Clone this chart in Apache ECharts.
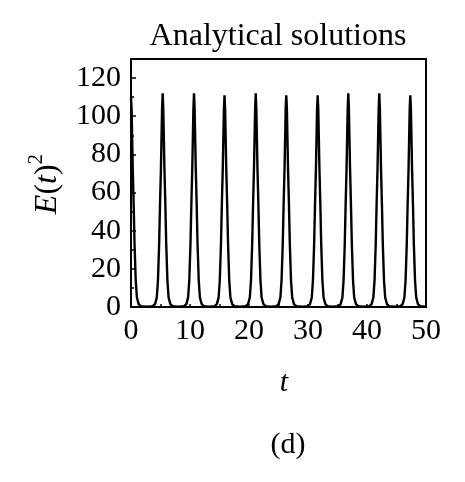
<!DOCTYPE html>
<html><head><meta charset="utf-8">
<script src="https://cdn.jsdelivr.net/npm/echarts@6/dist/echarts.min.js"></script>
<style>html,body{margin:0;padding:0;background:#fff}#c{width:465px;height:482px}</style>
</head><body><div id="c"></div>
<script>
// Data: [t, E(t)^2]
var peak0 = [[0,110],[0.1,104],[0.2,88],[0.3,72],[0.45,54],[0.6,33],[0.8,14],[1.0,5],[1.3,1.5],[1.7,0.4],[2.7,0.2]];
var peak1 = [[3.67,0.4],[4.07,1.5],[4.37,5],[4.57,14],[4.77,33],[4.92,54],[5.07,72],[5.17,88],[5.27,104],[5.37,112],[5.47,104],[5.57,88],[5.67,72],[5.82,54],[5.97,33],[6.17,14],[6.37,5],[6.67,1.5],[7.07,0.4],[8.0,0.2]];
var peak2 = [[8.98,0.4],[9.38,1.5],[9.68,5],[9.88,14],[10.08,33],[10.23,54],[10.38,72],[10.48,88],[10.58,104],[10.68,112],[10.78,104],[10.88,88],[10.98,72],[11.13,54],[11.28,33],[11.48,14],[11.68,5],[11.98,1.5],[12.38,0.4],[13.2,0.2]];
var peak3 = [[14.15,0.4],[14.55,1.5],[14.85,5],[15.05,14],[15.25,33],[15.4,54],[15.55,72],[15.65,88],[15.75,104],[15.85,111],[15.95,104],[16.05,88],[16.15,72],[16.3,54],[16.45,33],[16.65,14],[16.85,5],[17.15,1.5],[17.55,0.4],[18.5,0.2]];
var peak4 = [[19.44,0.4],[19.84,1.5],[20.14,5],[20.34,14],[20.54,33],[20.69,54],[20.84,72],[20.94,88],[21.04,104],[21.14,112],[21.24,104],[21.34,88],[21.44,72],[21.59,54],[21.74,33],[21.94,14],[22.14,5],[22.44,1.5],[22.84,0.4],[23.7,0.2]];
var peak5 = [[24.62,0.4],[25.02,1.5],[25.32,5],[25.52,14],[25.72,33],[25.87,54],[26.02,72],[26.12,88],[26.22,104],[26.32,111],[26.42,104],[26.52,88],[26.62,72],[26.77,54],[26.92,33],[27.12,14],[27.32,5],[27.62,1.5],[28.02,0.4],[29.0,0.2]];
var peak6 = [[29.94,0.4],[30.34,1.5],[30.64,5],[30.84,14],[31.04,33],[31.19,54],[31.34,72],[31.44,88],[31.54,104],[31.64,111],[31.74,104],[31.84,88],[31.94,72],[32.09,54],[32.24,33],[32.44,14],[32.64,5],[32.94,1.5],[33.34,0.4],[34.2,0.2]];
var peak7 = [[35.13,0.4],[35.53,1.5],[35.83,5],[36.03,14],[36.23,33],[36.38,54],[36.53,72],[36.63,88],[36.73,104],[36.83,112],[36.93,104],[37.03,88],[37.13,72],[37.28,54],[37.43,33],[37.63,14],[37.83,5],[38.13,1.5],[38.53,0.4],[39.4,0.2]];
var peak8 = [[40.38,0.4],[40.78,1.5],[41.08,5],[41.28,14],[41.48,33],[41.63,54],[41.78,72],[41.88,88],[41.98,104],[42.08,112],[42.18,104],[42.28,88],[42.38,72],[42.53,54],[42.68,33],[42.88,14],[43.08,5],[43.38,1.5],[43.78,0.4],[44.7,0.2]];
var peak9 = [[45.64,0.4],[46.04,1.5],[46.34,5],[46.54,14],[46.74,33],[46.89,54],[47.04,72],[47.14,88],[47.24,104],[47.34,111],[47.44,104],[47.54,88],[47.64,72],[47.79,54],[47.94,33],[48.14,14],[48.34,5],[48.64,1.5],[49.04,0.4],[50,0.2]];

var xTicks = [0, 10, 20, 30, 40, 50];
var yTicks = [0, 20, 40, 60, 80, 100, 120];
var titleText = 'Analytical solutions';
var xName = 't';
var panelLabel = '(d)';

var series = [].concat(peak0, peak1, peak2, peak3, peak4, peak5, peak6, peak7, peak8, peak9);

var FONT = 'Liberation Serif';
var chart = echarts.init(document.getElementById('c'), null, {renderer: 'canvas'});
chart.setOption({
  animation: false,
  backgroundColor: '#fff',
  grid: {left: 131, right: 39, top: 59, bottom: 175, show: true, borderColor: '#000', borderWidth: 2, backgroundColor: 'transparent'},
  xAxis: {
    type: 'value', min: xTicks[0], max: xTicks[xTicks.length - 1], interval: 10,
    axisLine: {show: true, lineStyle: {color: '#000', width: 2}},
    axisTick: {show: true, inside: true, length: 3, lineStyle: {color: '#000', width: 1.5}},
    minorTick: {show: true, splitNumber: 2, length: 3, lineStyle: {color: '#000', width: 1.5}},
    splitLine: {show: false},
    axisLabel: {color: '#000', fontFamily: FONT, fontSize: 30, margin: 9}
  },
  yAxis: {
    type: 'value', min: 0, max: 130, interval: 20,
    axisLine: {show: true, lineStyle: {color: '#000', width: 2}},
    axisTick: {show: true, inside: true, length: 5, lineStyle: {color: '#000', width: 1.5}},
    minorTick: {show: true, splitNumber: 2, length: 3, lineStyle: {color: '#000', width: 1.5}},
    splitLine: {show: false},
    axisLabel: {color: '#000', fontFamily: FONT, fontSize: 30, margin: 10,
      formatter: function (v) { return yTicks.indexOf(v) >= 0 ? String(v) : ''; }}
  },
  series: [{
    type: 'line', data: series, symbol: 'none', smooth: false,
    lineStyle: {color: '#000', width: 2.4}
  }],
  graphic: [
    {type: 'text', x: 278, y: 37, style: {text: titleText, fill: '#000', font: '32px "Liberation Serif"', textAlign: 'center', textVerticalAlign: 'middle'}},
    {type: 'text', x: 284, y: 383, style: {text: xName, fill: '#000', font: 'italic 30px "Liberation Serif"', textAlign: 'center', textVerticalAlign: 'middle'}},
    {type: 'text', x: 288, y: 445, style: {text: panelLabel, fill: '#000', font: '30px "Liberation Serif"', textAlign: 'center', textVerticalAlign: 'middle'}},
    {type: 'text', x: 45, y: 184, rotation: Math.PI / 2,
      style: {
        text: '{i|E}{n|(}{i|t}{n|)}{s|2}',
        textAlign: 'center', textVerticalAlign: 'middle', fill: '#000',
        rich: {
          i: {fontFamily: FONT, fontStyle: 'italic', fontSize: 32, lineHeight: 38, verticalAlign: 'bottom'},
          n: {fontFamily: FONT, fontSize: 32, lineHeight: 38, verticalAlign: 'bottom'},
          s: {fontFamily: FONT, fontSize: 21, lineHeight: 38, verticalAlign: 'top'}
        }
      }}
  ]
});
</script></body></html>
